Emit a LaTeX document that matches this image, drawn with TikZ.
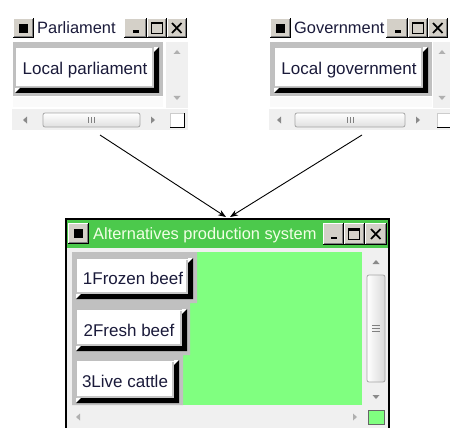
\documentclass[tikz,border=0pt]{standalone}
\usepackage{fontspec}
\setmainfont{Liberation Sans}
\usetikzlibrary{arrows.meta}
\definecolor{btnface}{HTML}{D4D0C8}
\definecolor{panelgray}{HTML}{C0C0C0}
\definecolor{sbbg}{HTML}{F0F0F0}
\definecolor{titlegreen}{HTML}{4CC94C}
\definecolor{contentgreen}{HTML}{80FF80}
\definecolor{txtcol}{HTML}{1A1A3A}
\definecolor{titletxt}{HTML}{F2FFE6}
\definecolor{arrgray}{HTML}{8A8A8A}
\definecolor{arrlight}{HTML}{B0B0B0}

% raised small title-bar button: x1 y1 x2 y2
\newcommand{\tbbox}[4]{%
  \fill[btnface] (#1,#2) rectangle (#3,#4);
  \draw[white,line width=1] (#1+0.5,#4-1) -- (#1+0.5,#2+0.5) -- (#3-1,#2+0.5);
  \draw[gray,line width=1] (#1+1,#4-1.5) -- (#3-1.5,#4-1.5) -- (#3-1.5,#2+1);
  \draw[black,line width=1] (#1,#4-0.5) -- (#3-0.5,#4-0.5) -- (#3-0.5,#2);
}
\newcommand{\iconglyph}[2]{\fill[black] (#1+6,#2+6) rectangle (#1+15,#2+15);}
\newcommand{\minglyph}[2]{\fill[black] (#1+8,#2+12.5) rectangle (#1+14,#2+15);}
\newcommand{\maxglyph}[2]{\draw[black,line width=1.2] (#1+4.5,#2+4.5) rectangle (#1+15.5,#2+15.5);
  \fill[black] (#1+4,#2+4) rectangle (#1+16,#2+6.5);}
\newcommand{\closeglyph}[2]{\draw[black,line width=1.7] (#1+5,#2+5) -- (#1+14.5,#2+15) (#1+14.5,#2+5) -- (#1+5,#2+15);}
% big raised button with black bevel: x1 y1 x2 y2
\newcommand{\bigbtn}[4]{%
  \fill[white] (#1,#2) rectangle (#3,#4);
  \draw[gray!50,line width=1] (#1+0.5,#4-5) -- (#1+0.5,#2+0.5) -- (#3-5,#2+0.5);
  \draw[gray!45,line width=1.5] (#1+1,#4-6) -- (#3-6,#4-6) -- (#3-6,#2+1.5);
  \fill[black] (#1,#4) -- (#3,#4) -- (#3,#2) -- (#3-5,#2+5) -- (#3-5,#4-5) -- (#1+5,#4-5) -- cycle;
}
\newcommand{\uparr}[3]{\fill[#3] (#1-3.5,#2+2) -- (#1+3.5,#2+2) -- (#1,#2-2) -- cycle;}
\newcommand{\dnarr}[3]{\fill[#3] (#1-3.5,#2-2) -- (#1+3.5,#2-2) -- (#1,#2+2) -- cycle;}
\newcommand{\lfarr}[3]{\fill[#3] (#1+2,#2-3.5) -- (#1+2,#2+3.5) -- (#1-2,#2) -- cycle;}
\newcommand{\rtarr}[3]{\fill[#3] (#1-2,#2-3.5) -- (#1-2,#2+3.5) -- (#1+2,#2) -- cycle;}
% horizontal thumb x1 y1 x2 y2
\newcommand{\hthumb}[4]{%
  \draw[gray!70,line width=0.8,rounded corners=2,top color=white,bottom color=gray!25] (#1,#2) rectangle (#3,#4);
  \draw[gray,line width=0.8] ({(#1+#3)/2-3},#2+4) -- ({(#1+#3)/2-3},#4-4)
     ({(#1+#3)/2},#2+4) -- ({(#1+#3)/2},#4-4) ({(#1+#3)/2+3},#2+4) -- ({(#1+#3)/2+3},#4-4);
}
\newcommand{\vthumb}[4]{%
  \draw[gray!70,line width=0.8,rounded corners=2,left color=white,right color=gray!30] (#1,#2) rectangle (#3,#4);
  \draw[gray,line width=0.8] (#1+5,{(#2+#4)/2-3}) -- (#3-5,{(#2+#4)/2-3})
     (#1+5,{(#2+#4)/2}) -- (#3-5,{(#2+#4)/2}) (#1+5,{(#2+#4)/2+3}) -- (#3-5,{(#2+#4)/2+3});
}
% corner box
\newcommand{\cornerbox}[5]{%
  \fill[#5] (#1,#2) rectangle (#3,#4);
  \draw[gray!40,line width=1] (#1+0.5,#4) -- (#1+0.5,#2+0.5) -- (#3,#2+0.5);
  \draw[black,line width=1.5] (#1,#4-0.75) -- (#3-0.75,#4-0.75) -- (#3-0.75,#2);
}

\tikzset{
  btntext/.style={text=txtcol,font=\fontsize{17}{19}\selectfont,inner sep=0pt,anchor=center},
  titletext/.style={font=\fontsize{16.4}{18}\selectfont,inner sep=0pt,anchor=west},
  link/.style={black,line width=0.9,-{Stealth[length=8pt,width=6pt]}}
}

\begin{document}
\begin{tikzpicture}[x=1pt,y=-1pt]
\useasboundingbox (0,0) rectangle (450,428);
\clip (0,0) rectangle (450,428);
\fill[white] (0,0) rectangle (450,428);

% ================= Parliament window =================
\fill[sbbg] (166,42) rectangle (188,108);
\fill[sbbg] (12,109) rectangle (188,130);
\fill[panelgray] (13,42) rectangle (163,96);
\fill[white!96!gray] (13,97) rectangle (163,107);
\tbbox{13}{18}{34}{38}\iconglyph{13}{18}
\node[titletext,text=txtcol] (ptitle) at (37,28) {Parliament};
\tbbox{124}{18}{147}{38}\minglyph{125}{18}
\tbbox{147}{18}{167}{38}\maxglyph{147}{18}
\tbbox{167}{18}{187}{38}\closeglyph{167}{18}
\bigbtn{15}{47}{159}{93}
\node[btntext] (plocal) at (85,70) {Local parliament};
\uparr{177}{52}{arrlight}
\dnarr{177}{98}{arrlight}
\lfarr{25}{120}{arrgray}
\hthumb{43}{113}{140}{127}
\rtarr{153}{120}{arrgray}
\cornerbox{170}{113}{185}{128}{white}

% ================= Government window =================
\fill[sbbg] (433,42) rectangle (450,108);
\fill[sbbg] (269,109) rectangle (450,130);
\fill[panelgray] (270,42) rectangle (432,96);
\fill[white!96!gray] (270,97) rectangle (432,107);
\tbbox{270}{18}{291}{38}\iconglyph{270}{18}
\node[titletext,text=txtcol] (gtitle) at (294,28) {Government};
\tbbox{386}{18}{408}{38}\minglyph{387}{18}
\tbbox{408}{18}{428}{38}\maxglyph{408}{18}
\tbbox{428}{18}{448}{38}\closeglyph{428}{18}
\bigbtn{274}{47}{428}{93}
\node[btntext] (glocal) at (349,70) {Local government};
\uparr{442}{52}{arrlight}
\dnarr{442}{98}{arrlight}
\lfarr{279}{120}{arrgray}
\hthumb{295}{113}{405}{127}
\rtarr{418}{120}{arrgray}
\cornerbox{437}{113}{452}{128}{white}

% ================= Alternatives window =================
\fill[sbbg] (66,219) rectangle (389,440);
\fill[titlegreen] (67,220) rectangle (388,248);
\fill[contentgreen] (72,252) rectangle (362,405);
\fill[panelgray] (72,252) -- (197,252) -- (197,303) -- (190,303) -- (190,355)
   -- (183,355) -- (183,405) -- (72,405) -- cycle;
\draw[black,line width=2] (66,219) rectangle (389,440);
\tbbox{68}{223}{89}{244}\iconglyph{68}{223}
\node[titletext,text=titletxt] (atitle) at (93,235) {Alternatives production system};
\tbbox{323}{223}{344}{245}\minglyph{323}{224}
\tbbox{344}{223}{365}{245}\maxglyph{344}{224}
\tbbox{365}{223}{387}{245}\closeglyph{366}{224}
\bigbtn{76}{258}{193}{299}
\node[btntext] (b1) at (133,278) {1Frozen beef};
\bigbtn{76}{309}{187}{351}
\node[btntext] (b2) at (129,330) {2Fresh beef};
\bigbtn{76}{360}{179}{403}
\node[btntext] (b3) at (125,381) {3Live cattle};
\uparr{376}{262}{arrgray}
\vthumb{367}{275}{385}{382}
\dnarr{376}{397}{arrgray}
\lfarr{78}{417}{arrlight}
\rtarr{355}{417}{arrlight}
\fill[contentgreen] (368,410) rectangle (385,425);
\draw[gray!80!black,line width=1] (368.5,410.5) rectangle (384.5,424.5);

% ================= connectors =================
\coordinate (parlout) at (100,135);
\coordinate (govout) at (362,135);
\coordinate (altinL) at (226,217);
\coordinate (altinR) at (230,217);
\draw[link] (parlout) -- (altinL);
\draw[link] (govout) -- (altinR);
\end{tikzpicture}
\end{document}
